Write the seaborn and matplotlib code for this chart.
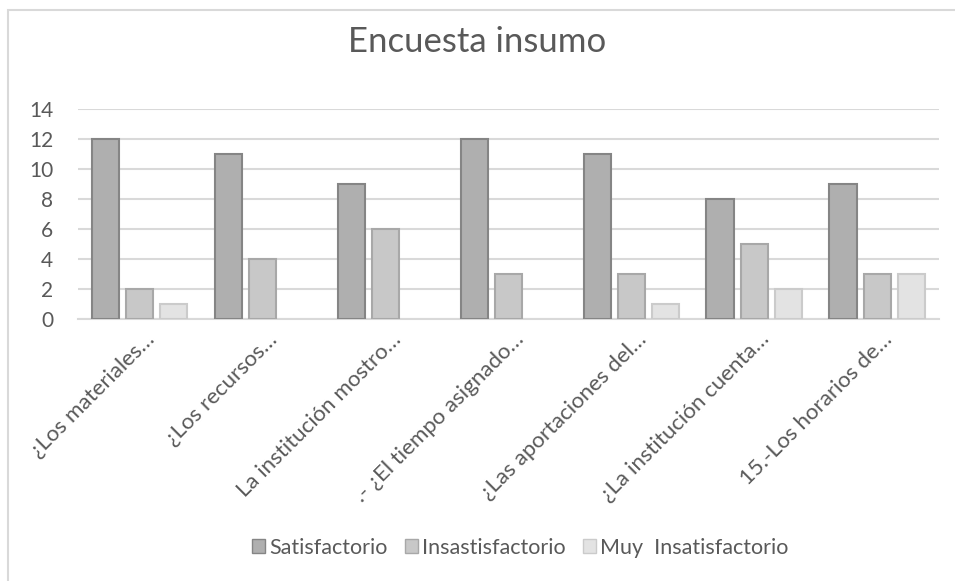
import numpy as np
import pandas as pd
import matplotlib
matplotlib.use("Agg")
import matplotlib.pyplot as plt
import matplotlib.transforms as mtrans
import seaborn as sns
from matplotlib.patches import Rectangle

## datos
preguntas = ["¿Los materiales…", "¿Los recursos…", "La institución mostro…",
             ".- ¿El tiempo asignado…", "¿Las aportaciones del…",
             "¿La institución cuenta…", "15.-Los horarios de…"]
satisfactorio = [12, 11, 9, 12, 11, 8, 9]
insatisfactorio = [2, 4, 6, 3, 3, 5, 3]
muy_insatisfactorio = [1, 0, 0, 0, 1, 2, 3]
series = ["Satisfactorio", "Insastisfactorio", "Muy  Insatisfactorio"]
y_ticks = [0, 2, 4, 6, 8, 10, 12, 14]

df = pd.DataFrame({"pregunta": preguntas,
                   series[0]: satisfactorio,
                   series[1]: insatisfactorio,
                   series[2]: muy_insatisfactorio})
df = df.melt(id_vars="pregunta", var_name="serie", value_name="valor")

sns.set_style("white")
plt.rcParams['font.family'] = ['Lato', 'DejaVu Sans']

caras = ["#afafaf", "#c8c8c8", "#e3e3e3"]
bordes = ["#858585", "#a8a8a8", "#cbcbcb"]
txt = "#595959"

fig = plt.figure(figsize=(9.55, 5.81), dpi=100)
ax = fig.add_axes([0.0817, 0.4509, 0.9015, 0.3615])

sns.barplot(data=df, x="pregunta", y="valor", hue="serie", hue_order=series,
            palette=caras, width=0.83, gap=0.18, ax=ax, legend=True, zorder=3)

for cont, ec in zip(ax.containers, bordes):
    for p in cont:
        p.set_edgecolor(ec)
        p.set_linewidth(1.5 if p.get_height() > 0 else 0)

ax.set_ylim(0, 14)
ax.set_xlim(-0.5, len(preguntas) - 0.5)
ax.set_yticks(y_ticks)
ax.yaxis.grid(True, color="#d9d9d9", linewidth=1.5, zorder=0)
ax.set_axisbelow(True)
for s in ["top", "right", "left"]:
    ax.spines[s].set_visible(False)
ax.spines["bottom"].set_color("#d9d9d9")
ax.spines["bottom"].set_linewidth(1.5)
ax.tick_params(axis="both", length=0, colors=txt, labelsize=15)
ax.tick_params(axis="y", pad=18)
ax.set_xlabel("")
ax.set_ylabel("")
ax.set_xticks(range(len(preguntas)))
ax.set_xticklabels(preguntas, rotation=45, ha="right", va="top",
                   rotation_mode="anchor", fontsize=16, color=txt)
desplaza = mtrans.ScaledTranslation(5 / 100, 0, fig.dpi_scale_trans)
for lbl in ax.get_xticklabels():
    lbl.set_y(-0.025)
    lbl.set_transform(lbl.get_transform() + desplaza)

fig.text(0.5, 0.928, "Encuesta insumo", ha="center", va="center",
         fontsize=25, color=txt)

handles, labels = ax.get_legend_handles_labels()
for h, ec in zip(handles, bordes):
    h.set_edgecolor(ec)
ax.legend_.remove()
fig.legend(handles, labels, loc="center", bbox_to_anchor=(0.545, 0.057), ncol=3,
           frameon=False, fontsize=15.5, labelcolor=txt, handlelength=0.6,
           handleheight=0.6, handletextpad=0.2, columnspacing=0.8)

# marco del grafico
fig.patches.append(Rectangle((8 / 955, -0.05), 1.2, 1 - 10 / 581 + 0.05,
                             transform=fig.transFigure, fill=False,
                             edgecolor="#d9d9d9", linewidth=1.5))

fig.savefig("out.png", dpi=100)
